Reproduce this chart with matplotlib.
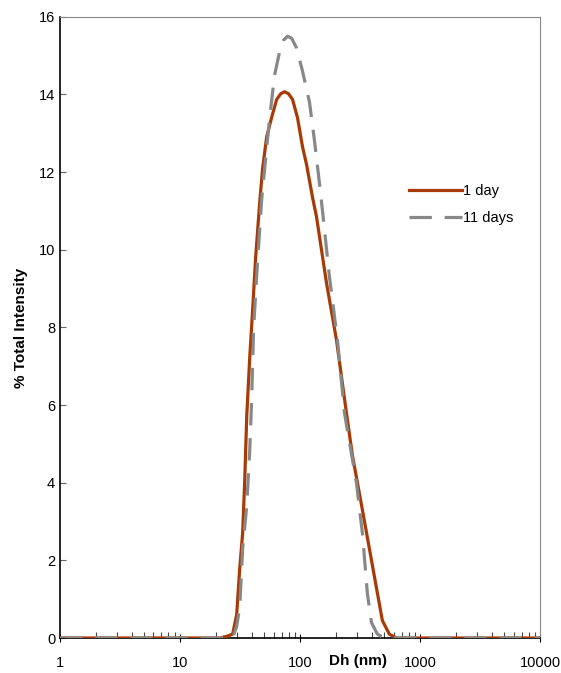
import matplotlib.pyplot as plt
import numpy as np

# Dh (nm) and % total intensity
dh_1day = [1, 21.4, 24.9, 27.4, 29.6, 31.4, 33.2, 34.5, 35.9, 38.0, 40.2, 42.6,
           46.0, 48.7, 52.6, 57.8, 63.7, 69.0, 74.1, 80.0, 86.5, 95.1, 104.7, 113.0, 126.8,
           136.9, 165.7, 200.7, 243.0, 272.7, 330.1, 431.7, 484.0, 553.5, 632.5, 10000]
int_1day = [0, 0, 0.05, 0.1, 0.6, 1.8, 2.7, 4.0, 5.7, 7.2, 8.45, 9.8,
            11.2, 12.1, 12.9, 13.4, 13.87, 14.02, 14.07, 14.02, 13.87, 13.4, 12.65, 12.2, 11.35,
            10.85, 9.15, 7.68, 5.8, 4.7, 3.3, 1.3, 0.45, 0.1, 0, 0]

dh_11days = [1, 27.4, 29.6, 31.4, 33.2, 35.9, 38.0, 39.4, 41.0, 43.4, 47.8, 55.7,
             61.3, 67.4, 72.8, 78.6, 84.9, 93.3, 104.7, 119.7, 131.8, 145.0, 153.6, 175.5,
             204.6, 233.9, 294.4, 330.1, 363.2, 392.5, 439.9, 503.1, 10000]
int_11days = [0, 0, 0.3, 0.8, 2.3, 3.4, 4.8, 6.1, 8.0, 9.3, 11.3, 13.4,
              14.5, 15.1, 15.4, 15.5, 15.45, 15.2, 14.6, 13.8, 12.8, 11.7, 11.0, 9.3,
              7.68, 5.8, 4.0, 2.7, 1.15, 0.4, 0.1, 0, 0]

red = '#A83A05'
gray = '#888888'

plt.rcParams['font.family'] = ['Liberation Sans', 'DejaVu Sans']

fig = plt.figure(figsize=(5.61, 6.73), dpi=100)
ax = fig.add_axes([0.107, 0.052, 0.856, 0.923])

ax.plot(dh_1day, int_1day, color=red, lw=2.3, label='1 day', zorder=3,
        solid_joinstyle='round')
ax.plot(dh_11days, int_11days, color=gray, lw=2.3, dashes=(7, 4), label='11 days',
        zorder=4, dash_joinstyle='round')

ax.set_xscale('log')
ax.set_xlim(1, 10000)
ax.set_ylim(0, 16)
ax.set_yticks(np.arange(0, 17, 2))
ax.set_xticks([1, 10, 100, 1000, 10000])
ax.set_xticklabels(['1', '10', '100', '1000', '10000'])

ax.tick_params(axis='both', which='major', direction='inout', length=6, width=0.8,
               labelsize=10.5, colors='black')
ax.tick_params(axis='y', which='major', direction='in', length=4, color='#666666')
ax.tick_params(axis='x', which='minor', direction='in', length=4, width=0.8, color='#444444')
ax.tick_params(axis='x', which='major', pad=10)

for s in ['top', 'right']:
    ax.spines[s].set_color('#888888')
    ax.spines[s].set_linewidth(0.8)
for s in ['left', 'bottom']:
    ax.spines[s].set_color('black')
    ax.spines[s].set_linewidth(1.2)

ax.set_ylabel('% Total Intensity', fontsize=11, fontweight='bold', labelpad=8)
ax.set_xlabel('Dh (nm)', fontsize=11, fontweight='bold')
ax.xaxis.set_label_coords(0.62, -0.025)

ax.legend(loc='upper left', bbox_to_anchor=(0.7, 0.752), frameon=False,
          handlelength=3.6, fontsize=10.5, handletextpad=0.1, labelspacing=0.9)

fig.savefig('out.png', dpi=100)
